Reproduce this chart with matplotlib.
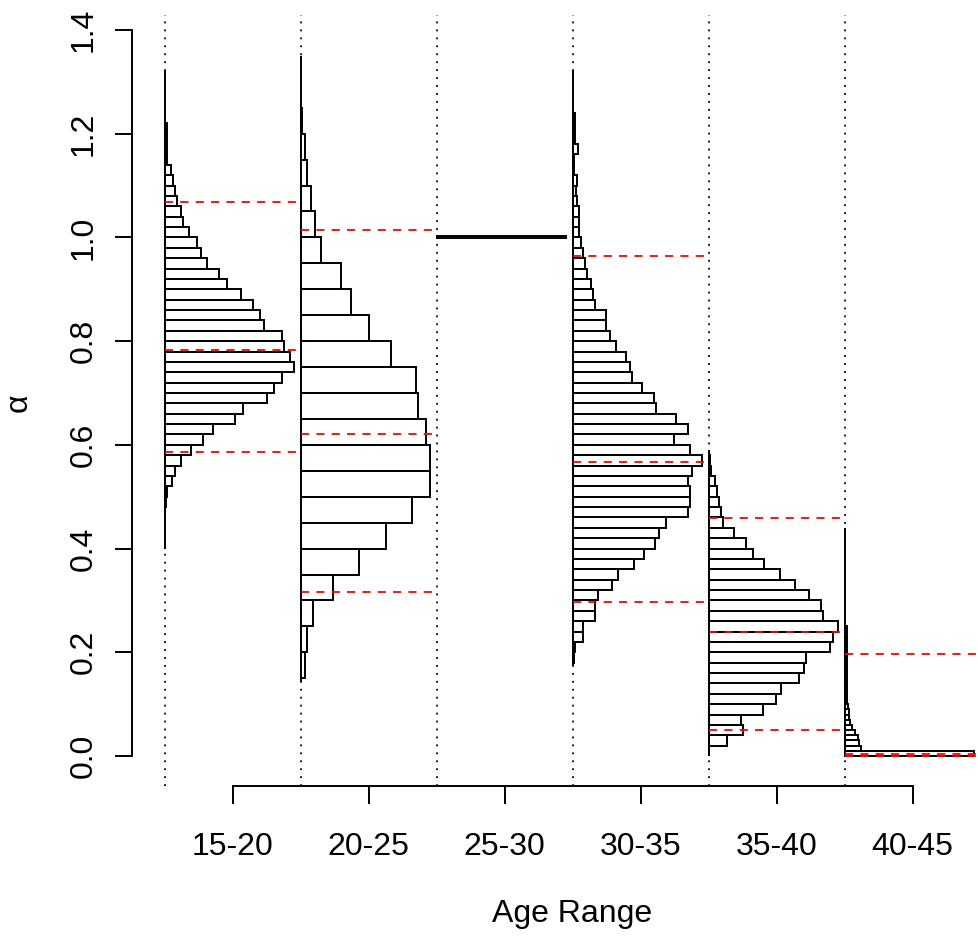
import matplotlib
matplotlib.use("Agg")
from matplotlib import pyplot as plt

plt.rcParams['font.family'] = ['Liberation Sans', 'DejaVu Sans']

age_ranges = ['15-20', '20-25', '25-30', '30-35', '35-40', '40-45']

# histogram of alpha per age range: first bin edge, bin width, counts (bottom -> top)
bin_start = [0.48, 0.15, 0.998, 0.18, 0.00, 0.00]
bin_width = [0.02, 0.05, 0.004, 0.02, 0.02, 0.01]

counts_15_20 = [1.5, 2, 7, 10, 16, 26, 38, 48, 70, 78, 101, 108, 116, 128, 124,
                118, 116, 98, 94, 88, 76, 62, 54, 42, 36, 32, 24, 18, 16, 12,
                10, 8, 6, 2, 2, 2, 2]
counts_20_25 = [4, 6, 12, 32, 58, 85, 110, 128, 128, 124, 116, 114, 90, 68, 50,
                40, 20, 14, 10, 6, 4, 1.5]
counts_25_30 = [1]
counts_30_35 = [1.5, 2, 10, 10, 22, 22, 26, 40, 46, 62, 72, 83, 87, 94, 116,
                118, 118, 116, 120, 130, 118, 102, 116, 104, 84, 82, 70, 60, 58,
                54, 44, 38, 34, 34, 22, 20, 18, 14, 12, 10, 8, 6, 6, 6, 4, 3, 4,
                1.5, 1.5, 5, 2, 2, 2]
counts_35_40 = [0, 19, 35, 33, 55, 68, 73, 92, 97, 99, 123, 126, 131, 116, 114,
                102, 88, 72, 56, 45, 38, 26, 15, 13, 10, 8, 6, 2, 1]
counts_40_45 = [130, 16, 14, 13, 10, 7, 5, 4, 4, 3, 2, 2, 2, 2, 2, 2, 2, 2, 2,
                2, 2, 2, 2, 2, 2]
all_counts = [counts_15_20, counts_20_25, counts_25_30,
              counts_30_35, counts_35_40, counts_40_45]

# full range of the sampled values (empty bins show as a plain line)
sample_min = [0.40, 0.145, 0.998, 0.175, 0.0, 0.0]
sample_max = [1.32, 1.35, 1.002, 1.32, 0.59, 0.44]

# 2.5%, 50%, 97.5% quantiles (none shown for 25-30)
q_low = [0.586, 0.316, None, 0.297, 0.050, 0.0]
q_mid = [0.783, 0.621, None, 0.567, 0.239, 0.004]
q_high = [1.068, 1.014, None, 0.964, 0.459, 0.196]

LW = 1.4

fig = plt.figure(figsize=(9.79, 9.40), dpi=100)
ax = fig.add_axes([132 / 979, 154 / 940, 847 / 979, 771 / 940])

for i, counts in enumerate(all_counts):
    pos = i + 1
    left = pos - 0.5
    top = max(counts)
    widths = [c / top * 0.95 for c in counts]
    edges = [bin_start[i] + k * bin_width[i] for k in range(len(counts))]
    ax.vlines(left, sample_min[i], sample_max[i], color='black', lw=LW, zorder=2)
    ax.barh(edges, widths, height=bin_width[i], left=left, align='edge',
            fill=False, edgecolor='black', lw=LW, zorder=2)
    if q_mid[i] is not None:
        ax.hlines([q_low[i], q_mid[i], q_high[i]], left, pos + 0.5,
                  colors='red', linestyles=(0, (4.5, 4)), lw=1.3, zorder=3)

for k in range(len(age_ranges)):
    ax.axvline(k + 0.5, color='black', lw=1.3, linestyle=(0, (1, 3.4)), zorder=1)

ax.set_xlim(0.26, 0.26 + 847 / 136)
ax.set_ylim(-30 / 518.6, 1.4 + 15 / 518.6)

ax.set_xticks(range(1, 7))
ax.set_xticklabels(age_ranges)
ax.set_yticks([0.0, 0.2, 0.4, 0.6, 0.8, 1.0, 1.2, 1.4])
ax.set_yticklabels(['0.0', '0.2', '0.4', '0.6', '0.8', '1.0', '1.2', '1.4'])
for lab in ax.get_yticklabels():
    lab.set_rotation(90)
    lab.set_va('center')

ax.tick_params(axis='both', direction='out', length=12.6, width=LW,
               labelsize=23, colors='black')
ax.tick_params(axis='x', pad=20.5)
ax.tick_params(axis='y', pad=11.4)

for side in ['top', 'right']:
    ax.spines[side].set_visible(False)
ax.spines['left'].set_bounds(0, 1.4)
ax.spines['bottom'].set_bounds(1, 6)
ax.spines['left'].set_linewidth(LW)
ax.spines['bottom'].set_linewidth(LW)

ax.set_xlabel('Age Range', fontsize=23, va='baseline')
ax.xaxis.set_label_coords((572 - 132) / 847, -136 / 771)
ax.set_ylabel('α', fontsize=23, va='center')
ax.yaxis.set_label_coords((19 - 132) / 847, 0.497)

fig.savefig('out.png', dpi=100)
